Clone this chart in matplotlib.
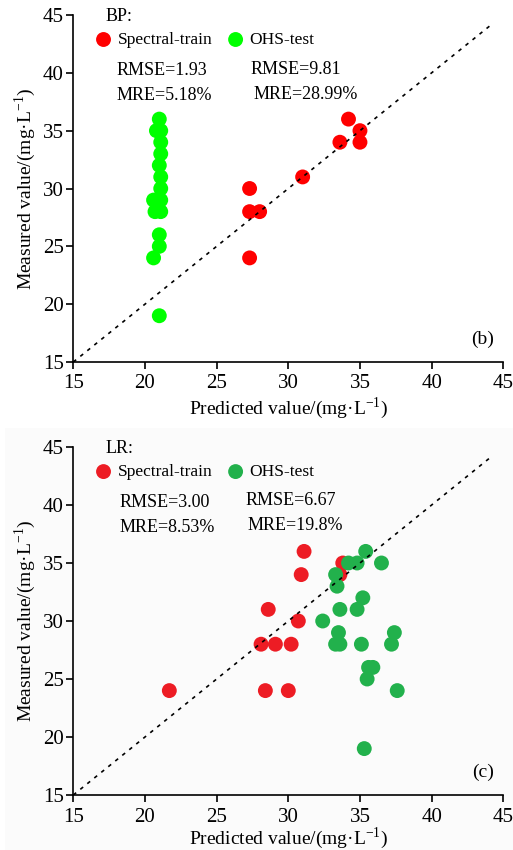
import matplotlib
matplotlib.use("Agg")
import matplotlib.pyplot as plt
from matplotlib.patches import Rectangle

plt.rcParams['font.family'] = ['Liberation Serif', 'DejaVu Serif']
plt.rcParams['mathtext.fontset'] = 'custom'
plt.rcParams['mathtext.rm'] = 'Liberation Serif'

# (b) BP model
bp_train_x = [27.3, 27.3, 28.0, 27.3, 31.0, 33.6, 34.2, 35.0, 35.0]
bp_train_y = [30, 28, 28, 24, 31, 34, 36, 35, 34]
bp_test_x = [21.0, 20.8, 21.1, 21.1, 21.1, 21.0, 21.1, 21.1, 20.6, 21.1, 20.7, 21.1, 21.0, 21.0, 20.6, 21.0]
bp_test_y = [36, 35, 35, 34, 33, 32, 31, 30, 29, 29, 28, 28, 26, 25, 24, 19]

# (c) LR model
lr_train_x = [21.7, 28.1, 29.1, 30.2, 28.6, 28.4, 30.0, 30.7, 30.9, 31.1, 33.8, 33.6]
lr_train_y = [24, 28, 28, 28, 31, 24, 24, 30, 34, 36, 35, 34]
lr_test_x = [35.4, 34.2, 34.8, 36.5, 33.3, 33.4, 35.2, 33.6, 34.8, 32.4, 33.5,
             37.4, 33.3, 33.6, 35.1, 37.2, 35.6, 35.9, 35.5, 37.6, 35.3]
lr_test_y = [36, 35, 35, 35, 34, 33, 32, 31, 31, 30, 29,
             29, 28, 28, 28, 28, 26, 26, 25, 24, 19]

ticks = [15, 20, 25, 30, 35, 40, 45]

fig = plt.figure(figsize=(5.13, 8.5), dpi=100)
fig.patches.append(Rectangle((5 / 513, 0), 1, 1 - 428 / 850, transform=fig.transFigure,
                             facecolor='#fbfbfb', edgecolor='none', zorder=-10))

ax1 = fig.add_axes([73.3 / 513, 1 - 362 / 850, 430 / 513, 347 / 850])
ax2 = fig.add_axes([73.3 / 513, 1 - 795 / 850, 430 / 513, 348 / 850])
ax2.set_facecolor('none')


def panel(ax, tx, ty, vx, vy, red, green, name, m1, m2, tag, p1, p2, lpad):
    ax.scatter(tx, ty, s=115, color=red, edgecolors='none', zorder=2, label='Spectral-train')
    ax.scatter(vx, vy, s=115, color=green, edgecolors='none', zorder=2, label='OHS-test')
    ax.plot([15, 44.1], [15, 44.1], color='black', lw=1.2, linestyle=(0, (2.2, 3.2)), zorder=3)
    ax.set_xlim(15, 45)
    ax.set_ylim(15, 45)
    ax.set_xticks(ticks)
    ax.set_yticks(ticks)
    ax.spines['top'].set_visible(False)
    ax.spines['right'].set_visible(False)
    ax.spines['left'].set_linewidth(1.2)
    ax.spines['bottom'].set_linewidth(1.2)
    ax.tick_params(direction='out', length=5, width=1.2, labelsize=15, pad=2)
    ax.tick_params(axis='x', pad=4)
    ax.set_xlabel('Predicted value/(mg·L$^{-1}$)', fontsize=14, labelpad=lpad)
    ax.set_ylabel('Measured value/(mg·L$^{-1}$)', fontsize=14, labelpad=3)
    ax.text(0.076, 0.995, name, transform=ax.transAxes, fontsize=13, va='center', ha='left')
    ax.text(p1[0], p1[1], m1[0], transform=ax.transAxes, fontsize=13, va='center')
    ax.text(p1[0], p1[1] - 0.072, m1[1], transform=ax.transAxes, fontsize=13, va='center')
    ax.text(p2[0], p2[1], m2[0], transform=ax.transAxes, fontsize=13, va='center')
    ax.text(p2[0] + 0.005, p2[1] - 0.072, m2[1], transform=ax.transAxes, fontsize=13, va='center')
    ax.text(0.978, 0.065, tag, transform=ax.transAxes, fontsize=14, va='center', ha='right')
    ax.legend(loc='center left', bbox_to_anchor=(0.04, 0.928), ncol=2, frameon=False,
              fontsize=12.5, handletextpad=0.05, columnspacing=0.6, borderpad=0,
              borderaxespad=0, scatterpoints=1, markerscale=1.0, handlelength=1.5)


panel(ax1, bp_train_x, bp_train_y, bp_test_x, bp_test_y, '#ff0000', '#00ff00', 'BP:',
      ['RMSE=1.93', 'MRE=5.18%'], ['RMSE=9.81', 'MRE=28.99%'], '(b)',
      (0.101, 0.839), (0.413, 0.844), 1)
panel(ax2, lr_train_x, lr_train_y, lr_test_x, lr_test_y, '#ed1c24', '#22b14c', 'LR:',
      ['RMSE=3.00', 'MRE=8.53%'], ['RMSE=6.67', 'MRE=19.8%'], '(c)',
      (0.107, 0.840), (0.401, 0.846), -1)

fig.savefig('out.png', dpi=100)
